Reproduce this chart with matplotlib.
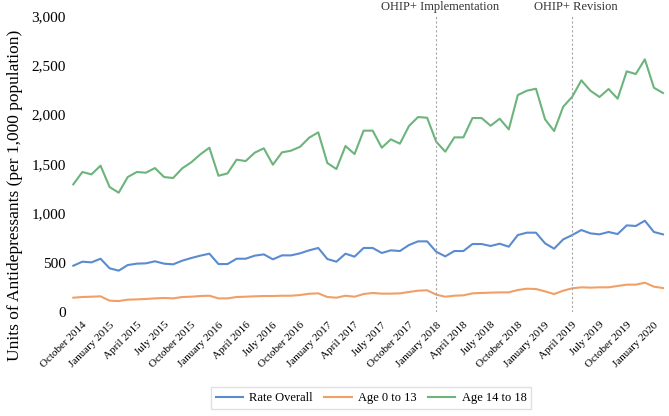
import matplotlib
matplotlib.use("Agg")
import matplotlib.pyplot as plt
from matplotlib.ticker import FuncFormatter

plt.rcParams['font.family'] = ['Liberation Serif', 'DejaVu Serif']

# monthly, September 2014 to February 2020
months = ['Sep 2014', 'Oct 2014', 'Nov 2014', 'Dec 2014',
          'Jan 2015', 'Feb 2015', 'Mar 2015', 'Apr 2015', 'May 2015', 'Jun 2015',
          'Jul 2015', 'Aug 2015', 'Sep 2015', 'Oct 2015', 'Nov 2015', 'Dec 2015',
          'Jan 2016', 'Feb 2016', 'Mar 2016', 'Apr 2016', 'May 2016', 'Jun 2016',
          'Jul 2016', 'Aug 2016', 'Sep 2016', 'Oct 2016', 'Nov 2016', 'Dec 2016',
          'Jan 2017', 'Feb 2017', 'Mar 2017', 'Apr 2017', 'May 2017', 'Jun 2017',
          'Jul 2017', 'Aug 2017', 'Sep 2017', 'Oct 2017', 'Nov 2017', 'Dec 2017',
          'Jan 2018', 'Feb 2018', 'Mar 2018', 'Apr 2018', 'May 2018', 'Jun 2018',
          'Jul 2018', 'Aug 2018', 'Sep 2018', 'Oct 2018', 'Nov 2018', 'Dec 2018',
          'Jan 2019', 'Feb 2019', 'Mar 2019', 'Apr 2019', 'May 2019', 'Jun 2019',
          'Jul 2019', 'Aug 2019', 'Sep 2019', 'Oct 2019', 'Nov 2019', 'Dec 2019',
          'Jan 2020', 'Feb 2020']

rate_overall = [469, 510, 503, 540, 443, 419, 476, 490, 493, 514, 490, 483, 520, 547, 571, 591,
                486, 486, 540, 540, 571, 584, 534, 574, 574, 595, 625, 649, 537, 510, 591, 561,
                649, 649, 598, 625, 618, 679, 716, 716, 611, 564, 618, 618, 689, 689, 669, 692,
                662, 780, 804, 804, 696, 642, 736, 780, 831, 797, 787, 811, 790, 878, 872, 925,
                811, 787]

age_0_13 = [145, 152, 155, 159, 115, 111, 125, 128, 132, 138, 142, 138, 152, 155, 162, 165,
            138, 138, 152, 155, 159, 162, 162, 165, 165, 172, 185, 189, 152, 145, 165, 155,
            182, 193, 186, 186, 189, 203, 216, 220, 176, 155, 165, 169, 189, 193, 196, 199,
            199, 223, 236, 233, 209, 182, 216, 240, 250, 247, 250, 250, 264, 277, 277, 297,
            257, 243]

age_14_18 = [1294, 1419, 1395, 1483, 1267, 1209, 1368, 1419, 1412, 1459, 1368, 1358, 1456, 1517, 1598, 1665,
             1381, 1405, 1544, 1530, 1615, 1659, 1493, 1618, 1635, 1675, 1767, 1821, 1510, 1449, 1682, 1601,
             1838, 1838, 1665, 1750, 1706, 1885, 1976, 1969, 1726, 1625, 1770, 1770, 1966, 1966, 1888, 1959,
             1851, 2199, 2243, 2263, 1953, 1834, 2081, 2182, 2348, 2243, 2179, 2260, 2162, 2439, 2412, 2561,
             2273, 2220]

tick_idx = list(range(1, len(months), 3))
tick_labels = ['October 2014', 'January 2015', 'April 2015', 'July 2015',
               'October 2015', 'January 2016', 'April 2016', 'July 2016',
               'October 2016', 'January 2017', 'April 2017', 'July 2017',
               'October 2017', 'January 2018', 'April 2018', 'July 2018',
               'October 2018', 'January 2019', 'April 2019', 'July 2019',
               'October 2019', 'January 2020']

events = ['Jan 2018', 'Apr 2019']
event_labels = ['OHIP+ Implementation', 'OHIP+ Revision']

x = list(range(len(months)))

fig = plt.figure(figsize=(6.69, 4.16), dpi=100)
ax = fig.add_axes([0.1028, 0.25, 0.895, 0.7115])

ax.plot(x, rate_overall, color='#5B8BCF', linewidth=1.5, label='Rate Overall')
ax.plot(x, age_0_13, color='#F0A066', linewidth=1.5, label='Age 0 to 13')
ax.plot(x, age_14_18, color='#6CB47C', linewidth=1.5, label='Age 14 to 18')

for ev, lab in zip(events, event_labels):
    i = months.index(ev)
    ax.axvline(i, ymin=0, ymax=1, color='#A6A6A6', linestyle=(0, (2, 2)), linewidth=0.8)
    ax.text(i + 0.4, 3030, lab, ha='center', va='bottom', fontsize=9, color='#333333')

ax.set_xlim(-0.5, len(months) - 0.5)
ax.set_ylim(0, 3000)
ax.set_yticks(range(0, 3001, 500))
ax.yaxis.set_major_formatter(FuncFormatter(lambda v, p: f'{int(v):,}'))
ax.set_xticks(tick_idx)
ax.set_xticklabels(tick_labels, rotation=45, ha='right', rotation_mode='anchor', fontsize=8)
ax.tick_params(axis='y', length=0, labelsize=11, pad=2)
ax.tick_params(axis='x', length=0, pad=6)
for s in ax.spines.values():
    s.set_visible(False)
ax.set_ylabel('Units of Antidepressants (per 1,000 population)', fontsize=12.5)
ax.yaxis.set_label_coords(-0.077, 0.395)

fig.legend(loc='center', bbox_to_anchor=(371 / 669, 1 - 398 / 416), ncol=3, fontsize=9,
           frameon=True, fancybox=False, edgecolor='#D9D9D9', handlelength=2.2,
           columnspacing=0.9, handletextpad=0.5, borderpad=0.4)

fig.savefig('out.png', dpi=100)
